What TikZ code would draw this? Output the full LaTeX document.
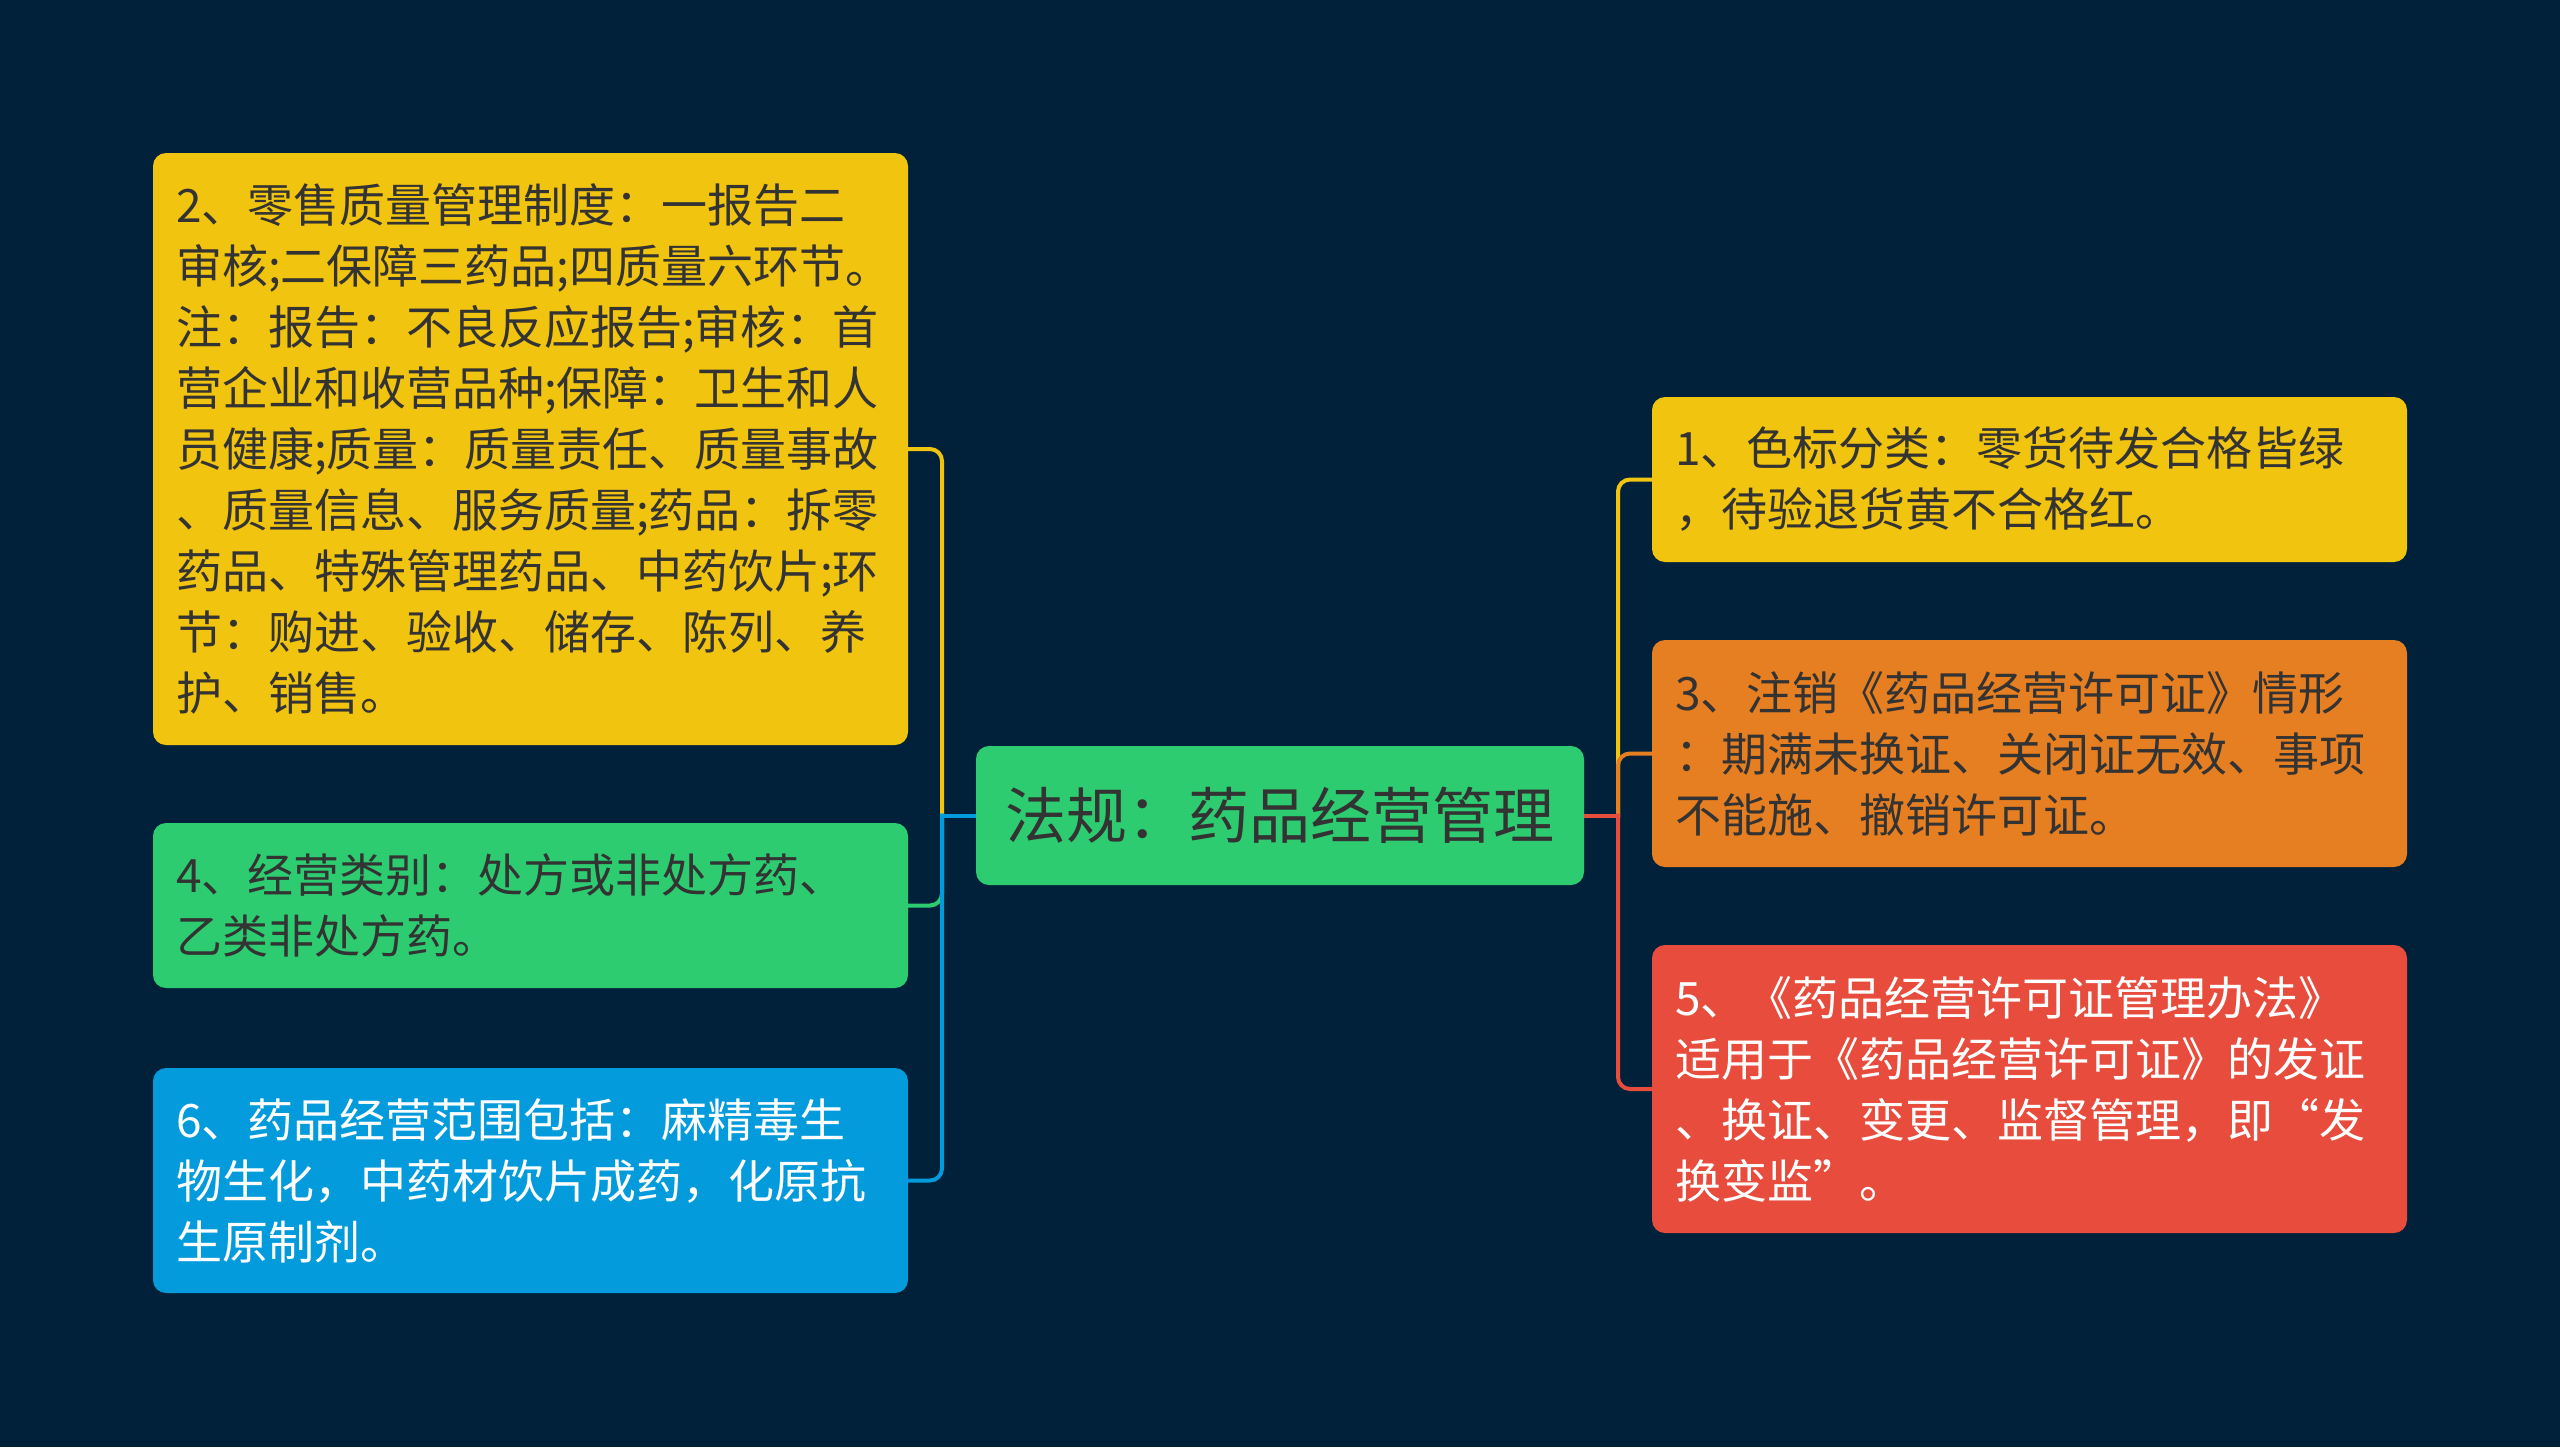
\documentclass[tikz,border=0pt]{standalone}
\usepackage{fontspec}
\setmainfont{Noto Sans CJK SC}
\usepackage{xcolor}
\usepackage{tikz}
\usetikzlibrary{positioning,calc}
\definecolor{bgnavy}{HTML}{01213A}
\definecolor{lawyellow}{HTML}{F1C40F}
\definecolor{lawgreen}{HTML}{2ECC71}
\definecolor{lawblue}{HTML}{039BDC}
\definecolor{laworange}{HTML}{E67E22}
\definecolor{lawred}{HTML}{E74C3C}
\definecolor{txtdark}{HTML}{333333}

\begin{document}
\begin{tikzpicture}[x=0.5pt,y=-0.5pt]
  \tikzstyle{lawbox}=[rounded corners=6.5pt,align=left,text width=354.5pt,inner xsep=11.5pt,inner ysep=0pt,font=\fontsize{23pt}{30.5pt}\selectfont,text=txtdark]
  \tikzstyle{rootblock}=[rounded corners=6.5pt,align=center,minimum width=304pt,minimum height=69.5pt,inner sep=0pt,fill=lawgreen,text=txtdark,font=\fontsize{30.5pt}{36pt}\selectfont]
  \tikzstyle{branch}=[line width=2pt,rounded corners=6pt,line cap=rect]
  \tikzstyle{stub}=[line width=2pt]
  \fill[bgnavy] (0,0) rectangle (2560,1447);
  \useasboundingbox (0,0) rectangle (2560,1447);
  \node[rootblock] (root) at (1280,815.5) {法规：药品经营管理};
  \node[lawbox,fill=lawyellow,minimum height=296pt] (retail) at (530.5,449) {2、零售质量管理制度：一报告二\\审核;二保障三药品;四质量六环节。\\注：报告：不良反应报告;审核：首\\营企业和收营品种;保障：卫生和人\\员健康;质量：质量责任、质量事故\\、质量信息、服务质量;药品：拆零\\药品、特殊管理药品、中药饮片;环\\节：购进、验收、储存、陈列、养\\护、销售。};
  \node[lawbox,fill=lawgreen,minimum height=82.5pt] (category) at (530.5,905.5) {4、经营类别：处方或非处方药、\\乙类非处方药。};
  \node[lawbox,fill=lawblue,text=white,minimum height=112.5pt] (scope) at (530.5,1180.5) {6、药品经营范围包括：麻精毒生\\物生化，中药材饮片成药，化原抗\\生原制剂。};
  \node[lawbox,fill=lawyellow,minimum height=82.5pt] (colormark) at (2029.5,479.5) {1、色标分类：零货待发合格皆绿\\，待验退货黄不合格红。};
  \node[lawbox,fill=laworange,minimum height=113.5pt] (cancel) at (2029.5,753.5) {3、注销《药品经营许可证》情形\\：期满未换证、关闭证无效、事项\\不能施、撤销许可证。};
  \node[lawbox,fill=lawred,text=white,minimum height=144pt] (measures) at (2029.5,1089) {5、《药品经营许可证管理办法》\\适用于《药品经营许可证》的发证\\、换证、变更、监督管理，即“发\\换变监”。};
  \coordinate (ltrunk) at (942,815.5);
  \coordinate (rtrunk) at (1618,815.5);
  \draw[branch,lawyellow] (ltrunk) |- (retail.east);
  \draw[branch,lawgreen] (ltrunk) |- (category.east);
  \draw[branch,lawblue] (ltrunk) |- (scope.east);
  \draw[stub,lawblue] (root.west) -- (ltrunk);
  \draw[branch,lawyellow] (rtrunk) |- (colormark.west);
  \draw[branch,laworange] (rtrunk) |- (cancel.west);
  \draw[branch,lawred] (rtrunk) |- (measures.west);
  \draw[stub,lawred] (root.east) -- (rtrunk);
\end{tikzpicture}
\end{document}
